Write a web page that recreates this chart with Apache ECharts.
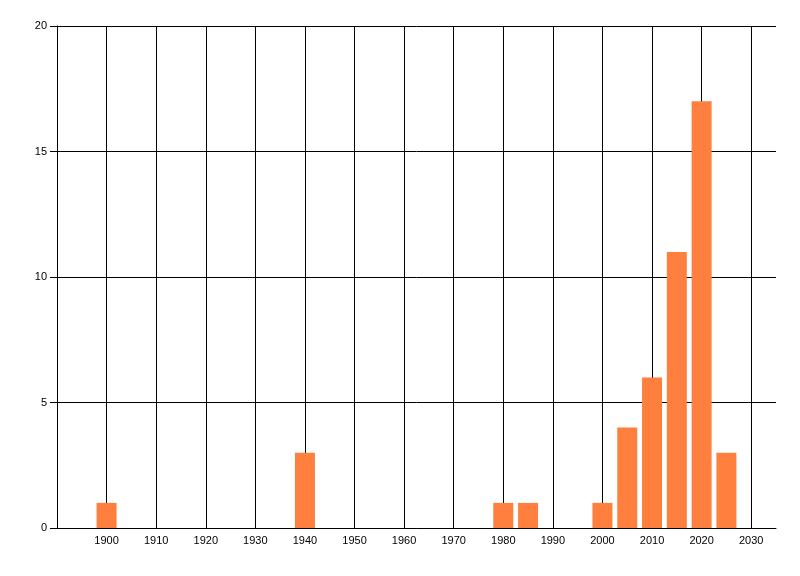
<!DOCTYPE html>
<html>
<head>
<meta charset="utf-8">
<script src="https://cdn.jsdelivr.net/npm/echarts@6/dist/echarts.min.js"></script>
<style>
  html, body { margin: 0; padding: 0; background: #fff; }
  #chart { width: 800px; height: 576px; }
</style>
</head>
<body>
<div id="chart"></div>
<script>
// years of each bar and how many fall in it
const years = [1900, 1940, 1980, 1985, 2000, 2005, 2010, 2015, 2020, 2025];
const counts = [1, 3, 1, 1, 1, 4, 6, 11, 17, 3];

const chart = echarts.init(document.getElementById('chart'));
const labelFont = { color: '#000', fontFamily: 'Liberation Sans, Arial, sans-serif', fontSize: 11 };
const black = { color: '#000', width: 1 };

chart.setOption({
  animation: false,
  grid: { left: 57, right: 24, top: 26, bottom: 48, containLabel: false },
  xAxis: {
    type: 'value',
    min: 1890,
    max: 2035,
    interval: 10,
    axisLine: { show: true, lineStyle: black },
    axisTick: { show: false },
    axisLabel: Object.assign({
      margin: 7, showMinLabel: false, showMaxLabel: false,
      formatter: v => String(v)
    }, labelFont),
    splitLine: { show: true, showMaxLine: false, lineStyle: black }
  },
  yAxis: {
    type: 'value',
    min: 0,
    max: 20,
    interval: 5,
    axisLine: { show: true, lineStyle: black },
    axisTick: { show: true, length: 7, lineStyle: black },
    axisLabel: Object.assign({ margin: 10, formatter: v => String(v) }, labelFont),
    splitLine: { show: true, lineStyle: black }
  },
  series: [{
    type: 'bar',
    barWidth: 20,
    itemStyle: { color: '#FF7F3F' },
    data: years.map((y, i) => [y, counts[i]])
  }]
});
</script>
</body>
</html>
